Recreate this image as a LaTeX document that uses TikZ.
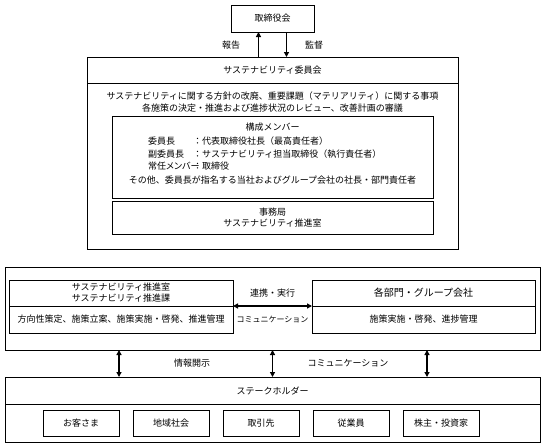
\documentclass[tikz,border=0pt]{standalone}
\usepackage{fontspec}
\setmainfont{Noto Sans CJK JP}
\newfontfamily\jpp[RawFeature=+palt]{Noto Sans CJK JP}
\usetikzlibrary{arrows.meta}
\begin{document}
\begin{tikzpicture}[x=1pt,y=-1pt,
  box/.style={draw, line width=0.8pt, inner sep=0pt, outer sep=0pt, anchor=north west, align=center, font=\fontsize{9}{11}\selectfont},
  lbl/.style={inner sep=0pt, font=\fontsize{9}{11}\selectfont},
  tip/.tip={Triangle[length=5pt,width=5pt]},
  arr/.style={line width=1.6pt, -tip},
  dbl/.style={line width=1.6pt, tip-tip}]
\useasboundingbox (0,0) rectangle (545,447);
% board
\node[box, minimum width=83pt, minimum height=27pt] (board) at (231,5) {取締役会};
% committee
\node[box, minimum width=371pt, minimum height=26pt] (cmthead) at (87,57) {サステナビリティ委員会};
\node[box, minimum width=371pt, minimum height=166pt] (cmtbody) at (87,83) {};
\draw[arr] ([xshift=-14pt]cmthead.north) -- ([xshift=-14pt]board.south);
\draw[arr] ([xshift=14pt]board.south) -- ([xshift=14pt]cmthead.north);
\node[lbl] (report) at (231,45) {報告};
\node[lbl] (audit) at (314,45) {監督};
\node[lbl] (l1) at (272.5,96) {サステナビリティに関する方針の改廃、重要課題（マテリアリティ）に関する事項};
\node[lbl] (l2) at (272.5,108) {各施策の決定・推進および進捗状況のレビュー、改善計画の審議};
% members
\node[box, minimum width=321pt, minimum height=82pt] (members) at (112,116) {};
\node[lbl] (mt) at (272.5,127) {構成メンバー};
\node[lbl, anchor=west] (m1a) at (148,141) {委員長};
\node[lbl, anchor=west] (m1b) at (193,141) {：代表取締役社長（最高責任者）};
\node[lbl, anchor=west] (m2a) at (148,154) {副委員長};
\node[lbl, anchor=west] (m2b) at (193,154) {：サステナビリティ担当取締役（執行責任者）};
\node[lbl, anchor=west] (m3a) at (148,166) {\jpp 常任メンバー};
\node[lbl, anchor=west] (m3b) at (193,166) {：取締役};
\node[lbl] (m4) at (272.5,180) {その他、委員長が指名する当社およびグループ会社の社長・部門責任者};
% office
\node[box, minimum width=321pt, minimum height=33pt] (office) at (112,201) {事務局\\サステナビリティ推進室};
% middle
\node[box, minimum width=535pt, minimum height=83pt] (mid) at (5,267) {};
\node[box, minimum width=224pt, minimum height=26pt] (lt) at (9,280) {サステナビリティ推進室\\サステナビリティ推進課};
\node[box, minimum width=224pt, minimum height=27pt] (lb) at (9,306) {方向性策定、施策立案、施策実施・啓発、推進管理};
\node[box, minimum width=223pt, minimum height=26pt, font=\fontsize{10}{12}\selectfont] (rt) at (312,280) {各部門・グループ会社};
\node[box, minimum width=223pt, minimum height=27pt] (rb) at (312,306) {施策実施・啓発、進捗管理};
\draw[dbl] (lt.south east) -- (rt.south west);
\node[lbl] (coop) at (272.5,293) {連携・実行};
\node[lbl, font=\fontsize{8}{10}\selectfont] (comm1) at (272.5,320) {コミュニケーション};
% stakeholders
\node[box, minimum width=535pt, minimum height=27pt] (sh) at (5,377) {ステークホルダー};
\node[box, minimum width=535pt, minimum height=38pt] (sb) at (5,404) {};
\draw[dbl] ([xshift=-153.5pt]mid.south) -- ([xshift=-153.5pt]sh.north);
\draw[dbl] (mid.south) -- (sh.north);
\draw[dbl] ([xshift=154.5pt]mid.south) -- ([xshift=154.5pt]sh.north);
\node[lbl] (disc) at (192,363) {情報開示};
\node[lbl] (comm2) at (348,363) {コミュニケーション};
\node[box, minimum width=76pt, minimum height=26pt] (s1) at (43,410) {お客さま};
\node[box, minimum width=76pt, minimum height=26pt] (s2) at (133,410) {地域社会};
\node[box, minimum width=76pt, minimum height=26pt] (s3) at (223,410) {取引先};
\node[box, minimum width=76pt, minimum height=26pt] (s4) at (313,410) {従業員};
\node[box, minimum width=76pt, minimum height=26pt] (s5) at (403,410) {株主・投資家};
\end{tikzpicture}
\end{document}
